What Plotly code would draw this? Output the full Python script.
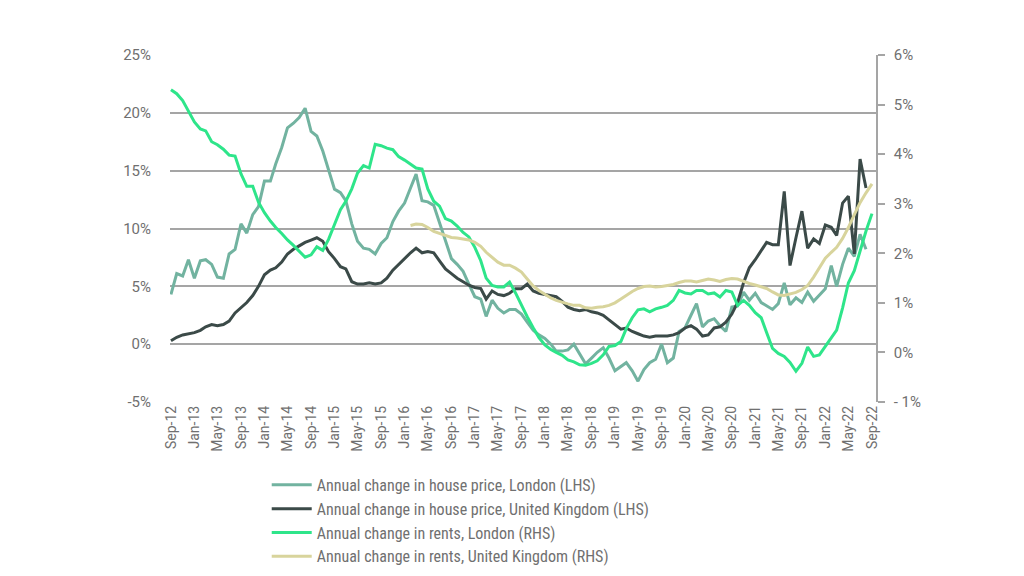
import pandas as pd
import plotly.graph_objects as go

# Monthly x-axis: Sep-2012 .. Sep-2022
months = pd.date_range("2012-09-01", "2022-09-01", freq="MS")

# Annual change in house price, London (LHS, %) – Sep-12 .. Aug-22
hp_london = [
    4.3, 6.1, 5.9, 7.3, 5.7, 7.2, 7.3, 6.9, 5.8, 5.7, 7.8, 8.2, 10.4, 9.6, 11.2, 11.9,
    14.1, 14.1, 15.6, 17.0, 18.7, 19.1, 19.6, 20.4, 18.4, 18.0, 16.7, 15.0, 13.4, 13.1,
    12.4, 10.4, 8.9, 8.3, 8.2, 7.8, 8.7, 9.2, 10.6, 11.5, 12.2, 13.5, 14.7, 12.4, 12.3,
    12.0, 10.5, 8.8, 7.4, 6.9, 6.3, 5.2, 4.1, 3.9, 2.4, 3.8, 3.1, 2.7, 3.0, 3.0,
    2.6, 1.9, 1.2, 0.8, 0.5, 0.0, -0.6, -0.6, -0.5, 0.0, -0.9, -1.7, -1.2, -0.7, -0.3,
    -1.2, -2.3, -1.9, -1.6, -2.3, -3.2, -2.2, -1.6, -1.3, 0.0, -1.6, -1.2, 1.1, 1.4, 2.5,
    3.5, 1.5, 2.0, 2.2, 1.6, 1.1, 3.2, 3.3, 4.5, 3.8, 4.4, 3.6, 3.3, 3.0, 3.5,
    5.3, 3.4, 4.0, 3.6, 4.5, 3.7, 4.2, 4.8, 6.8, 5.0, 6.9, 8.3, 7.6, 9.5, 8.2, None,
]

# Annual change in house price, United Kingdom (LHS, %) – Sep-12 .. Aug-22
hp_uk = [
    0.3, 0.6, 0.8, 0.9, 1.0, 1.2, 1.5, 1.7, 1.6, 1.7, 2.0, 2.7, 3.2, 3.6, 4.2, 5.0,
    6.0, 6.4, 6.6, 7.1, 7.8, 8.2, 8.5, 8.8, 9.0, 9.2, 8.9, 8.0, 7.4, 6.7,
    6.5, 5.4, 5.2, 5.2, 5.3, 5.2, 5.3, 5.7, 6.4, 6.9, 7.4, 7.9, 8.3, 7.9, 8.0,
    7.9, 7.2, 6.5, 6.1, 5.7, 5.4, 5.1, 4.9, 4.8, 3.9, 4.6, 4.3, 4.2, 4.4, 4.8,
    4.8, 5.2, 4.6, 4.4, 4.3, 4.2, 4.1, 3.7, 3.2, 3.0, 2.9, 3.0, 2.8, 2.7, 2.5,
    2.1, 1.7, 1.3, 1.4, 1.1, 0.9, 0.7, 0.6, 0.7, 0.7, 0.7, 0.8, 1.0, 1.4, 1.6,
    1.3, 0.7, 0.8, 1.4, 1.5, 1.9, 2.6, 3.6, 5.3, 6.6, 7.3, 8.1, 8.8, 8.6, 8.6,
    13.2, 6.8, 9.2, 11.5, 8.3, 9.1, 8.7, 10.3, 10.1, 9.4, 12.2, 12.8, 7.8, 16.0, 13.5, None,
]

# Annual change in rents, London (RHS, %) – Sep-12 .. Sep-22
rent_london = [
    5.30, 5.22, 5.08, 4.88, 4.65, 4.51, 4.47, 4.25, 4.19, 4.10, 3.98, 3.96, 3.60, 3.35,
    3.35, 3.03, 2.82, 2.65, 2.52, 2.40, 2.27, 2.16, 2.05, 1.92, 1.97, 2.13, 2.06, 2.28,
    2.58, 2.88, 3.05, 3.30, 3.62, 3.77, 3.72, 4.20, 4.17, 4.12, 4.09, 3.95, 3.88, 3.79,
    3.72, 3.70, 3.30, 3.05, 2.95, 2.70, 2.65, 2.55, 2.42, 2.33, 2.12, 1.85, 1.50, 1.35,
    1.32, 1.32, 1.42, 1.20, 0.95, 0.72, 0.50, 0.30, 0.15, 0.06, 0.00, -0.06, -0.15,
    -0.19, -0.25, -0.26, -0.22, -0.17, -0.05, 0.12, 0.14, 0.22, 0.48, 0.70, 0.86, 0.88,
    0.82, 0.88, 0.91, 0.95, 1.05, 1.25, 1.20, 1.18, 1.25, 1.25, 1.18, 1.20, 1.12, 1.25,
    1.22, 0.95, 1.05, 0.95, 0.80, 0.70, 0.40, 0.08, -0.02, -0.08, -0.20, -0.38, -0.22,
    0.11, -0.08, -0.05, 0.12, 0.30, 0.45, 0.90, 1.40, 1.65, 2.05, 2.45, 2.80,
]

# Annual change in rents, United Kingdom (RHS, %) – Feb-16 .. Sep-22
rent_uk_values = [
    2.56, 2.59, 2.58, 2.52, 2.44, 2.40, 2.36, 2.32, 2.31, 2.29, 2.27, 2.22, 2.14, 2.02,
    1.92, 1.82, 1.76, 1.76, 1.70, 1.62, 1.48, 1.34, 1.25, 1.17, 1.10, 1.05, 1.01, 0.98,
    0.95, 0.95, 0.90, 0.89, 0.91, 0.92, 0.95, 1.00, 1.08, 1.16, 1.23, 1.29, 1.33, 1.34,
    1.32, 1.33, 1.35, 1.37, 1.41, 1.44, 1.44, 1.42, 1.45, 1.48, 1.46, 1.43, 1.47, 1.49,
    1.48, 1.43, 1.39, 1.36, 1.33, 1.29, 1.22, 1.16, 1.15, 1.18, 1.21, 1.27, 1.35, 1.52,
    1.72, 1.90, 2.02, 2.12, 2.30, 2.52, 2.78, 3.02, 3.22, 3.40,
]
rent_uk = [None] * (len(months) - len(rent_uk_values)) + rent_uk_values

# Axis tick values / labels
left_ticks = [-5, 0, 5, 10, 15, 20, 25]
left_labels = ["-5%", "0%", "5%", "10%", "15%", "20%", "25%"]
right_ticks = [-1, 0, 1, 2, 3, 4, 5, 6]
right_labels = ["- 1%", "0%", "1%", "2%", "3%", "4%", "5%", "6%"]

names = [
    "Annual change in house price, London (LHS)",
    "Annual change in house price, United Kingdom (LHS)",
    "Annual change in rents, London (RHS)",
    "Annual change in rents, United Kingdom (RHS)",
]
colors = ["#72b3a0", "#3b4a48", "#2ee58a", "#d8d49c"]

FONT = "Roboto"
LEGEND_FONT = "Liberation Sans Narrow, Roboto Condensed, Roboto"
GREY = "#707070"
GRID = "#a5a5a5"

fig = go.Figure()
fig.add_trace(go.Scatter(x=months, y=hp_london, name=names[0], mode="lines",
                         line=dict(color=colors[0], width=3), yaxis="y"))
fig.add_trace(go.Scatter(x=months, y=hp_uk, name=names[1], mode="lines",
                         line=dict(color=colors[1], width=3), yaxis="y"))
fig.add_trace(go.Scatter(x=months, y=rent_london, name=names[2], mode="lines",
                         line=dict(color=colors[2], width=3), yaxis="y2"))
fig.add_trace(go.Scatter(x=months, y=rent_uk, name=names[3], mode="lines",
                         line=dict(color=colors[3], width=3), yaxis="y2"))

# The page body adds an 8px offset, so margins are compensated for it.
fig.update_layout(
    width=1024, height=576,
    margin=dict(l=162, r=156, t=47, b=182, autoexpand=False),
    paper_bgcolor="white", plot_bgcolor="white",
    font=dict(family=FONT, color=GREY),
    xaxis=dict(
        range=["2012-08-27", "2022-09-22"],
        tickmode="linear", tick0="2012-09-01", dtick="M4",
        tickformat="%b-%y", tickangle=-90,
        tickfont=dict(size=14, color=GREY),
        showgrid=False, showline=False, zeroline=False, ticks="",
        automargin=False,
    ),
    yaxis=dict(
        range=[-5, 25], tickmode="array", tickvals=left_ticks, ticktext=left_labels,
        tickfont=dict(size=15, color=GREY),
        showgrid=True, gridcolor=GRID, gridwidth=1.5,
        showline=False, zeroline=False, ticks="", ticklabelstandoff=18,
        automargin=False,
    ),
    yaxis2=dict(
        range=[-1, 6], tickmode="array", tickvals=right_ticks, ticktext=right_labels,
        overlaying="y", side="right",
        tickfont=dict(size=15, color=GREY),
        showgrid=False, zeroline=False,
        showline=True, linecolor=GRID, linewidth=1.5,
        ticks="outside", ticklen=7, tickcolor=GRID, tickwidth=1.5,
        ticklabelstandoff=6, automargin=False,
    ),
    legend=dict(
        orientation="v", x=0.137, xanchor="left", y=-0.19, yanchor="top",
        font=dict(size=16, color=GREY, family=LEGEND_FONT),
        tracegroupgap=0, itemwidth=40, bgcolor="rgba(0,0,0,0)",
    ),
    showlegend=True,
)

fig.write_html("out.html")
